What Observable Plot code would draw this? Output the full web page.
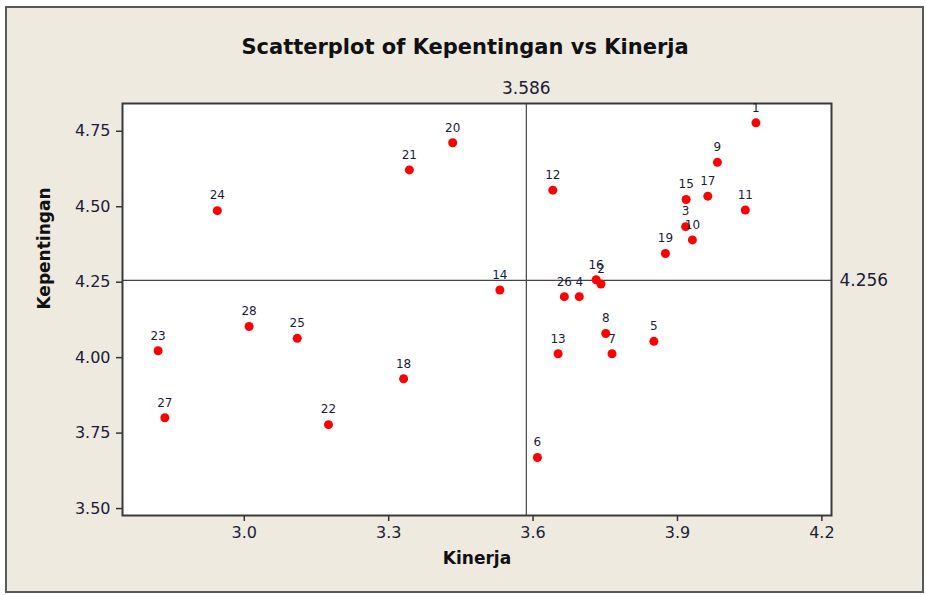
<!DOCTYPE html>
<html>
<head>
<meta charset="utf-8">
<script src="https://cdn.jsdelivr.net/npm/d3@7"></script>
<script src="https://cdn.jsdelivr.net/npm/@observablehq/plot@0.6"></script>
<style>
  html, body { margin: 0; padding: 0; background: #ffffff; }
  #page { position: relative; width: 926px; height: 595px; overflow: hidden; }
  #box { position: absolute; left: 5px; top: 6px; width: 919px; height: 587px; box-sizing: border-box;
         border: 2px solid #5a5a5a; background: #eeeae0; }
  #chart { position: absolute; left: 0; top: 0; width: 926px; }
  #title { height: 70px; box-sizing: border-box; padding-top: 34px; width: 930px; text-align: center;
           font-family: "DejaVu Sans", sans-serif; font-weight: bold; font-size: 21px; line-height: 26px; color: #111; }
</style>
</head>
<body>
<div id="page">
  <div id="box"></div>
  <div id="chart">
    <div id="title">Scatterplot of Kepentingan vs Kinerja</div>
  </div>
</div>
<script>
const pointLabels = [1,2,3,4,5,6,7,8,9,10,11,12,13,14,15,16,17,18,19,20,21,22,23,24,25,26,27,28];
const kinerja = [4.063,3.741,3.917,3.696,3.851,3.609,3.764,3.751,3.983,3.931,4.041,3.641,3.652,3.531,3.918,3.731,3.963,3.331,3.875,3.433,3.343,3.175,2.821,2.944,3.110,3.665,2.835,3.010];
const kepentingan = [4.778,4.244,4.434,4.202,4.054,3.669,4.013,4.080,4.647,4.390,4.489,4.555,4.013,4.224,4.524,4.258,4.535,3.930,4.345,4.712,4.622,3.778,4.023,4.487,4.064,4.202,3.801,4.103];
const refX = [3.586];
const refY = [4.256];
const xTicks = [3.0, 3.3, 3.6, 3.9, 4.2];
const yTicks = [3.50, 3.75, 4.00, 4.25, 4.50, 4.75];
const xLabel = "Kinerja";
const yLabel = "Kepentingan";

const data = pointLabels.map((id, i) => ({id, x: kinerja[i], y: kepentingan[i]}));
const textColor = "#1c1c38";

const chart = Plot.plot({
  width: 926,
  height: 525,
  marginLeft: 122,
  marginRight: 95,
  marginTop: 33,
  marginBottom: 80,
  style: {background: "transparent", fontFamily: "DejaVu Sans, sans-serif", fontSize: "16px", color: textColor},
  x: {domain: [2.747, 4.220], ticks: xTicks, tickFormat: d3.format(".1f"), tickSize: 6, tickPadding: 5, label: null},
  y: {domain: [3.477, 4.842], ticks: yTicks, tickFormat: d3.format(".2f"), tickSize: 6, tickPadding: 6, label: null},
  marks: [
    Plot.frame({fill: "white", stroke: null}),
    Plot.ruleX(refX, {stroke: "#444", strokeWidth: 1.2}),
    Plot.ruleY(refY, {stroke: "#444", strokeWidth: 1.2}),
    Plot.frame({stroke: "#3a3a3a", strokeWidth: 2}),
    Plot.axisX({ticks: xTicks, tickFormat: d3.format(".1f"), tickSize: 6, tickPadding: 5, fontSize: 16, stroke: "#333", strokeWidth: 1.5, label: null}),
    Plot.axisY({ticks: yTicks, tickFormat: d3.format(".2f"), tickSize: 6, tickPadding: 6, fontSize: 16, stroke: "#333", strokeWidth: 1.5, label: null}),
    Plot.text(refX, {x: d => d, frameAnchor: "top", lineAnchor: "middle", dy: -15, text: d => d3.format(".3f")(d), fontSize: 17, fill: textColor}),
    Plot.text(refY, {y: d => d, frameAnchor: "right", dx: 8, textAnchor: "start", text: d => d3.format(".3f")(d), fontSize: 17, fill: textColor}),
    Plot.dot(data, {x: "x", y: "y", r: 4.5, fill: "#ff0000", stroke: null}),
    Plot.text(data, {x: "x", y: "y", text: "id", dy: -15, fontSize: 12, fill: textColor}),
    Plot.text([xLabel], {frameAnchor: "bottom", dy: 48, fontWeight: "bold", fontSize: 17, fill: "#111"}),
    Plot.text([yLabel], {frameAnchor: "left", dx: -78, rotate: -90, fontWeight: "bold", fontSize: 17, fill: "#111"})
  ]
});
document.getElementById("chart").appendChild(chart);
</script>
</body>
</html>
